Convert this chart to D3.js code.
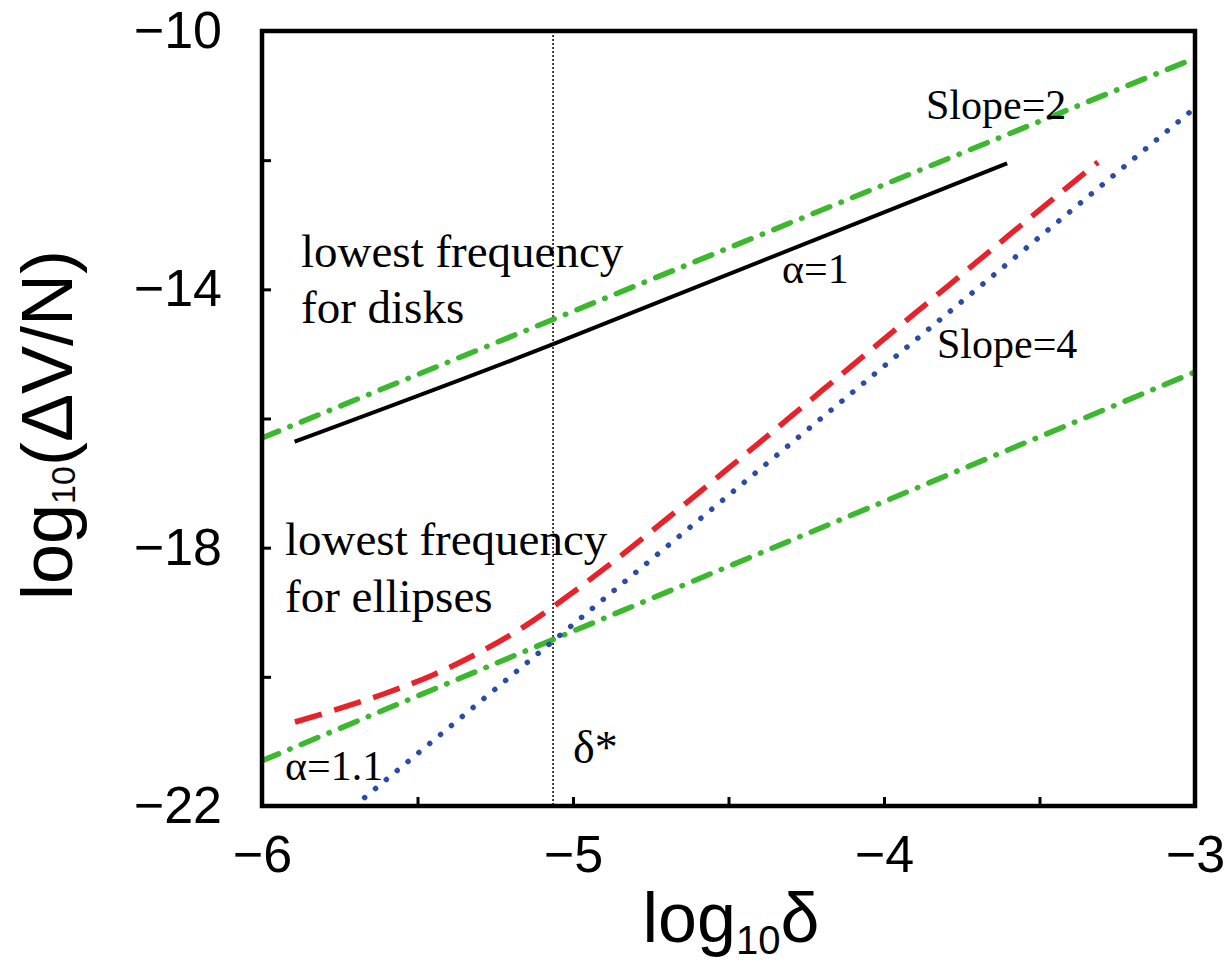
<!DOCTYPE html>
<html>
<head>
<meta charset="utf-8">
<script src="https://cdn.jsdelivr.net/npm/d3@7"></script>
<style>
  html, body { margin: 0; padding: 0; background: #fff; }
  svg { display: block; }
</style>
</head>
<body>
<svg id="chart" width="1224" height="965"></svg>
<script>
// ---- data ----
const xMajorTicks = [-6, -5, -4, -3];
const xMinorTicks = [-5.5, -4.5, -3.5];
const yMajorTicks = [-10, -14, -18, -22];
const yMinorTicks = [-12, -16, -20];

// alpha = 1 (disks), solid black
const disksX = [-5.895, -5.064, -4.711, -3.604];
const disksY = [-16.36, -14.85, -14.17, -12.05];

// alpha = 1.1 (ellipses), red dashed
const ellX = [-5.894, -5.75, -5.6, -5.45, -5.3, -5.15, -5.0, -4.85, -4.7, -4.5, -4.2, -3.9, -3.6, -3.312];
const ellY = [-20.70, -20.49, -20.25, -19.97, -19.62, -19.20, -18.69, -18.14, -17.56, -16.77, -15.57, -14.37, -13.17, -12.03];

// slope = 2 reference lines (green dash-dot)
const slope2UpperX = [-6, -3];
const slope2UpperY = [-16.30, -10.42];
const slope2LowerX = [-6, -3];
const slope2LowerY = [-21.30, -15.28];

// slope = 4 reference line (blue dotted)
const slope4X = [-5.67, -3.0];
const slope4Y = [-21.87, -11.19];

// delta* marker
const deltaStar = -5.064;

// ---- layout ----
const svg = d3.select("#chart");
const L = 262, R = 1195, T = 31, B = 806;
const x = d3.scaleLinear().domain([-6, -3]).range([L, R]);
const y = d3.scaleLinear().domain([-22, -10]).range([B, T]);

const zip = (xs, ys) => xs.map((v, i) => [v, ys[i]]);
const line = d3.line().x(d => x(d[0])).y(d => y(d[1]));
const curve = d3.line().x(d => x(d[0])).y(d => y(d[1])).curve(d3.curveMonotoneX);

const defs = svg.append("defs");
defs.append("clipPath").attr("id", "clip")
  .append("rect").attr("x", L).attr("y", T).attr("width", R - L).attr("height", B - T);

const plot = svg.append("g").attr("clip-path", "url(#clip)");

// vertical dotted delta* line
plot.append("line")
  .attr("x1", x(deltaStar)).attr("x2", x(deltaStar))
  .attr("y1", y(-10)).attr("y2", y(-22))
  .attr("stroke", "#000").attr("stroke-width", 1.5)
  .attr("stroke-dasharray", "2,2");

const green = "#3cb82e";
// green dash-dot lines
[zip(slope2UpperX, slope2UpperY), zip(slope2LowerX, slope2LowerY)].forEach(pts => {
  plot.append("path").attr("d", line(pts))
    .attr("fill", "none").attr("stroke", green).attr("stroke-width", 5.5)
    .attr("stroke-linecap", "round")
    .attr("stroke-dasharray", "18,12,0.5,12");
});

// blue dotted
plot.append("path").attr("d", line(zip(slope4X, slope4Y)))
  .attr("fill", "none").attr("stroke", "#2a4ca6").attr("stroke-width", 5.5)
  .attr("stroke-linecap", "round")
  .attr("stroke-dasharray", "0.1,14");

// red dashed
plot.append("path").attr("d", curve(zip(ellX, ellY)))
  .attr("fill", "none").attr("stroke", "#e8222b").attr("stroke-width", 5.5)
  .attr("stroke-dasharray", "28,13");

// black solid
plot.append("path").attr("d", curve(zip(disksX, disksY)))
  .attr("fill", "none").attr("stroke", "#000").attr("stroke-width", 4);

// ---- axes ----
const fmt = d3.format("d");
const axisStyle = g => {
  g.select(".domain").remove();
  g.selectAll(".tick line").attr("stroke", "#000").attr("stroke-width", 3);
  g.selectAll(".tick text")
    .attr("font-family", "Liberation Sans, Arial, sans-serif")
    .attr("font-size", 52).attr("fill", "#000");
};

svg.append("g").attr("transform", `translate(${L},0)`)
  .call(d3.axisLeft(y).tickValues(yMajorTicks).tickFormat(fmt).tickSize(-9).tickPadding(40))
  .call(axisStyle);
svg.append("g").attr("transform", `translate(${L},0)`)
  .call(d3.axisLeft(y).tickValues(yMinorTicks).tickFormat("").tickSize(-9))
  .call(axisStyle);
svg.append("g").attr("transform", `translate(0,${B})`)
  .call(d3.axisBottom(x).tickValues(xMajorTicks).tickFormat(fmt).tickSize(-9).tickPadding(29))
  .call(axisStyle);
svg.append("g").attr("transform", `translate(0,${B})`)
  .call(d3.axisBottom(x).tickValues(xMinorTicks).tickFormat("").tickSize(-9))
  .call(axisStyle);

// frame
svg.append("rect")
  .attr("x", L).attr("y", T).attr("width", R - L).attr("height", B - T)
  .attr("fill", "none").attr("stroke", "#000").attr("stroke-width", 4.5);

// ---- axis titles ----
const xt = svg.append("text")
  .attr("x", 731).attr("y", 942)
  .attr("text-anchor", "middle")
  .attr("font-family", "Liberation Sans, Arial, sans-serif")
  .attr("font-size", 70).attr("fill", "#000");
xt.append("tspan").text("log");
xt.append("tspan").attr("font-size", 40).attr("dy", 12).text("10");
xt.append("tspan").attr("dy", -12).text("δ");

const yt = svg.append("text")
  .attr("transform", `translate(72,425) rotate(-90)`)
  .attr("text-anchor", "middle")
  .attr("font-family", "Liberation Sans, Arial, sans-serif")
  .attr("font-size", 72).attr("fill", "#000");
yt.append("tspan").text("log");
yt.append("tspan").attr("font-size", 34).attr("dy", 3).text("10");
yt.append("tspan").attr("dy", -3).text("(ΔV/N)");

// ---- annotations ----
const serif = "Liberation Serif, Times New Roman, serif";
const ann = (tx, ty, s, size) => svg.append("text")
  .attr("x", tx).attr("y", ty).attr("font-family", serif)
  .attr("font-size", size).attr("fill", "#000").text(s);

ann(301, 267, "lowest frequency", 47);
ann(301, 323, "for disks", 47);
ann(285, 555, "lowest frequency", 47);
ann(285, 612, "for ellipses", 47);
ann(782, 283, "α=1", 42);
ann(926, 119, "Slope=2", 42);
ann(937, 358, "Slope=4", 42);
ann(285, 780, "α=1.1", 42);
ann(573, 763, "δ*", 46);
</script>
</body>
</html>
